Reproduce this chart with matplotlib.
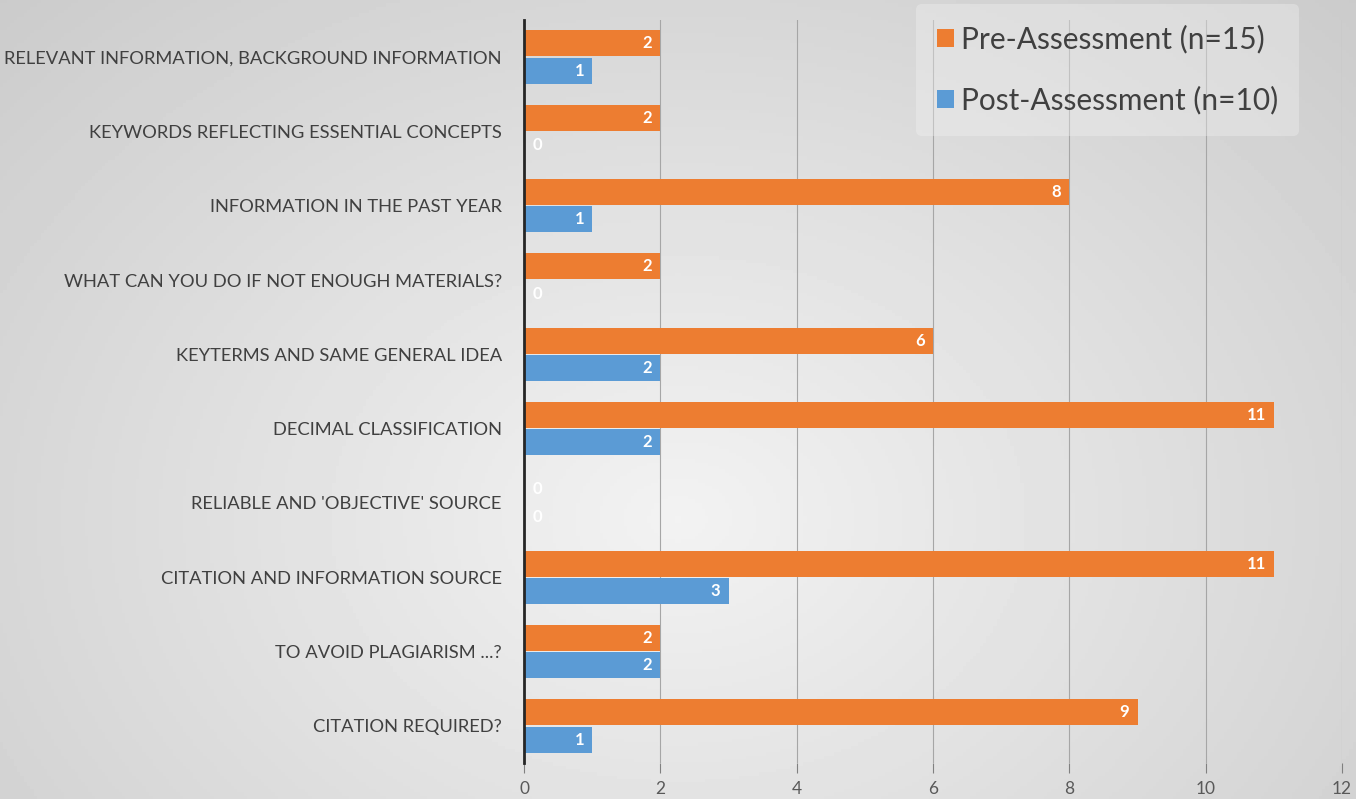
import matplotlib
matplotlib.use("Agg")
import matplotlib.pyplot as plt
import numpy as np

categories = ["RELEVANT INFORMATION, BACKGROUND INFORMATION",
              "KEYWORDS REFLECTING ESSENTIAL CONCEPTS",
              "INFORMATION IN THE PAST YEAR",
              "WHAT CAN YOU DO IF NOT ENOUGH MATERIALS?",
              "KEYTERMS AND SAME GENERAL IDEA",
              "DECIMAL CLASSIFICATION",
              "RELIABLE AND 'OBJECTIVE' SOURCE",
              "CITATION AND INFORMATION SOURCE",
              "TO AVOID PLAGIARISM ...?",
              "CITATION REQUIRED?"]
pre = [2, 2, 8, 2, 6, 11, 0, 11, 2, 9]
post = [1, 0, 1, 0, 2, 2, 0, 3, 2, 1]
series_names = ["Pre-Assessment (n=15)", "Post-Assessment (n=10)"]
xticks = [0, 2, 4, 6, 8, 10, 12]

orange = "#ED7D31"
blue = "#5B9BD5"
txt = "#404040"

plt.rcParams["font.family"] = ["Lato", "DejaVu Sans"]

fig = plt.figure(figsize=(13.56, 7.99), dpi=100)

## gradient background
bg = fig.add_axes([0, 0, 1, 1], zorder=-10)
gx, gy = np.meshgrid(np.linspace(-1, 1, 400), np.linspace(-1, 1, 240))
r = np.sqrt((gx * 0.9) ** 2 + ((gy - 0.3) * 0.7) ** 2)
bg.imshow(0.95 - 0.12 * r, cmap="gray", vmin=0, vmax=1, aspect="auto",
          extent=[0, 1, 0, 1])
bg.axis("off")

ax = fig.add_axes([524 / 1356, 1 - 763 / 799, (1342 - 524) / 1356, (763 - 20) / 799])
ax.patch.set_alpha(0)

y = np.arange(len(categories))
h = 0.35
b1 = ax.barh(y - h / 2 - 0.01, pre, height=h, color=orange, label=series_names[0], zorder=3)
b2 = ax.barh(y + h / 2 + 0.01, post, height=h, color=blue, label=series_names[1], zorder=3)

for bars, vals in ((b1, pre), (b2, post)):
    for bar, v in zip(bars, vals):
        cy = bar.get_y() + bar.get_height() / 2
        if v == 0:
            ax.text(0.12, cy, "0", color="white", ha="left", va="center",
                    fontsize=12, fontweight="bold", zorder=4)
        else:
            ax.text(v - 0.12, cy, str(v), color="white", ha="right", va="center",
                    fontsize=12, fontweight="bold", zorder=4)

ax.set_ylim(len(categories) - 0.5, -0.5)
ax.set_xlim(0, 12)
ax.set_yticks(y)
ax.set_yticklabels(categories, fontsize=13.2, color=txt)
ax.set_xticks(xticks)
ax.set_xticklabels([str(t) for t in xticks], fontsize=12.5, color="#595959")
ax.tick_params(axis="y", length=0, pad=16)
ax.tick_params(axis="x", length=7, color="#808080", pad=6, direction="out")
ax.xaxis.grid(True, color="#a6a6a6", linewidth=0.8, zorder=0)
for s in ("top", "right", "bottom"):
    ax.spines[s].set_visible(False)
ax.spines["left"].set_color("#262626")
ax.spines["left"].set_linewidth(2)
ax.spines["left"].set_zorder(5)

leg = ax.legend(loc="upper right", bbox_to_anchor=(0.955, 1.03), fontsize=21.5,
                frameon=True, handlelength=0.55, handleheight=0.55, handletextpad=0.25,
                labelspacing=1.1, borderpad=0.7, borderaxespad=0.2, labelcolor=txt)
leg.get_frame().set_facecolor("#f4f4f4")
leg.get_frame().set_alpha(0.35)
leg.get_frame().set_edgecolor("none")

plt.savefig("out.png", dpi=100)
